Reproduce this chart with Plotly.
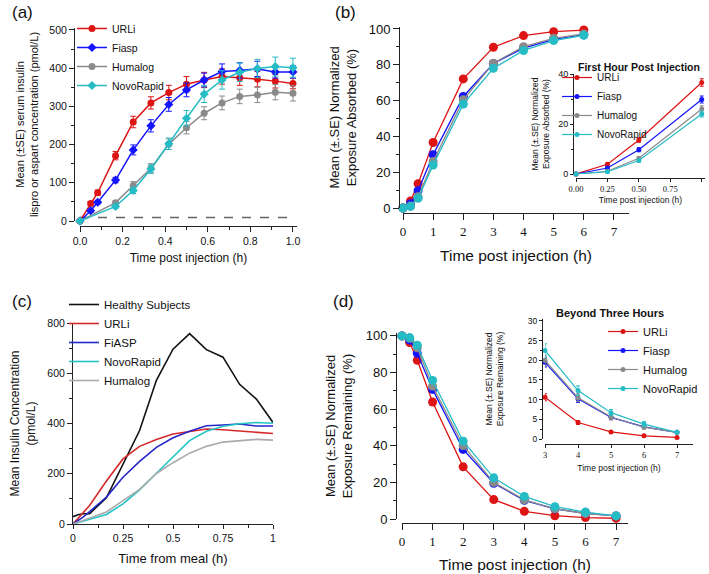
import plotly.graph_objects as go

W, H = 709, 574
SANS = "Liberation Sans, Arial, sans-serif"
SERIF = "Liberation Serif, Times New Roman, serif"
AX = "#222222"

# ---------------- data ----------------
series = ["URLi", "Fiasp", "Humalog", "NovoRapid"]
colors = ["#dc1414", "#1414ff", "#8a8a8a", "#26bcc6"]

# (a) serum insulin concentration, first hour
t_a_fast = [0, 0.05, 0.083, 0.167, 0.25, 0.333, 0.417, 0.5, 0.583, 0.667, 0.75, 0.833, 0.917, 1.0]
t_a_slow = [0, 0.167, 0.25, 0.333, 0.417, 0.5, 0.583, 0.667, 0.75, 0.833, 0.917, 1.0]
a_urli = [0, 46, 74, 171, 259, 309, 336, 358, 369, 378, 375, 371, 366, 360]
a_urli_se = [0, 5, 7, 11, 15, 16, 19, 20, 20, 20, 20, 20, 18, 14]
a_fiasp = [0, 27, 49, 107, 186, 249, 305, 343, 369, 391, 394, 398, 390, 390]
a_fiasp_se = [0, 4, 5, 7, 13, 16, 18, 18, 18, 20, 20, 20, 16, 16]
a_humalog = [0, 48, 93, 138, 201, 244, 282, 309, 326, 330, 337, 334]
a_humalog_se = [0, 5, 10, 12, 14, 16, 17, 18, 19, 20, 20, 20]
a_novo = [0, 38, 80, 136, 202, 269, 332, 369, 389, 399, 404, 401]
a_novo_se = [0, 5, 8, 11, 15, 20, 22, 24, 24, 24, 25, 25]
lloq = 9

# (b) normalized exposure absorbed
t_b = [0, 0.25, 0.5, 1, 2, 3, 4, 5, 6]
b_urli = [0, 3.9, 13.6, 36.6, 72.1, 89.8, 96.3, 98.5, 99.4]
b_urli_se = [0, 0.6, 0.9, 1.5, 1.5, 1.0, 0.7, 0.5, 0.4]
b_fiasp = [0, 2.4, 9.7, 29.8, 62.3, 80.7, 89.3, 94.2, 96.8]
b_fiasp_se = [0, 0.4, 0.8, 1.4, 1.6, 1.3, 1.0, 0.7, 0.5]
b_humalog = [0, 1.1, 6.3, 26.0, 60.4, 80.9, 90.1, 94.8, 97.2]
b_humalog_se = [0, 0.3, 0.7, 1.3, 1.6, 1.4, 1.0, 0.8, 0.5]
b_novo = [0, 0.9, 5.4, 24.0, 58.0, 78.0, 88.0, 93.5, 96.5]
b_novo_se = [0, 0.3, 0.6, 1.2, 1.6, 1.4, 1.1, 0.8, 0.6]
b_inset_n = 4  # first hour points (0, 0.25, 0.5, 1)

# (c) mean insulin concentration vs healthy subjects
c_names = ["Healthy Subjects", "URLi", "FiASP", "NovoRapid", "Humalog"]
c_colors = ["#111111", "#d42a2a", "#2626c8", "#22c4c4", "#aaaaaa"]
t_c_healthy = [0, 0.025, 0.05, 0.083, 0.167, 0.25, 0.333, 0.417, 0.5, 0.583, 0.667, 0.75, 0.833, 0.917, 1.0]
c_healthy = [29, 37, 41, 41, 104, 235, 372, 572, 696, 758, 694, 664, 556, 497, 404]

# (d) normalized exposure remaining
t_d = [0, 0.25, 0.5, 1, 2, 3, 4, 5, 6, 7]
d_urli = [100, 96.4, 86.7, 63.9, 28.5, 10.6, 4.2, 1.8, 0.8, 0.4]
d_urli_se = [0, 0.6, 1.0, 1.5, 1.5, 0.9, 0.5, 0.3, 0.2, 0.1]
d_fiasp = [100, 97.8, 90.5, 70.8, 38.0, 19.5, 10.2, 5.5, 3.1, 1.7]
d_fiasp_se = [0, 0.5, 1.0, 1.5, 1.6, 1.2, 0.9, 0.6, 0.4, 0.3]
d_humalog = [100, 98.7, 93.5, 72.6, 40.1, 20.0, 10.5, 5.6, 3.0, 1.7]
d_humalog_se = [0, 0.4, 0.8, 1.4, 1.7, 1.3, 1.0, 0.7, 0.5, 0.3]
d_novo = [100, 99.1, 94.9, 75.7, 42.5, 22.5, 12.3, 6.7, 3.8, 1.7]
d_novo_se = [0, 0.4, 0.8, 1.6, 1.8, 1.7, 1.2, 0.8, 0.6, 0.3]
d_inset_start = 5  # from 3 h onwards


def fx(p):
    return p / W


def fy(p):
    return 1 - p / H


BASE = dict(showline=True, linecolor=AX, linewidth=1, ticks="outside", tickcolor=AX,
            tickwidth=1, showgrid=False, zeroline=False, automargin=False)


def xaxis(d0, d1, rng, pos=None, anchor=None, **kw):
    a = dict(domain=[fx(d0), fx(d1)], range=rng, **BASE)
    if pos is not None:
        a.update(anchor="free", position=fy(pos))
    else:
        a.update(anchor=anchor)
    a.update(kw)
    return a


def yaxis(top, bottom, rng, pos=None, anchor=None, **kw):
    a = dict(domain=[fy(bottom), fy(top)], range=rng, **BASE)
    if pos is not None:
        a.update(anchor="free", position=fx(pos))
    else:
        a.update(anchor=anchor)
    a.update(kw)
    return a


def minor(dt, ln=3):
    return dict(dtick=dt, ticks="outside", ticklen=ln, tickcolor=AX, showgrid=False)


fig = go.Figure()

# ---- (a)
a_sets = [(t_a_fast, a_urli, a_urli_se, "circle"),
          (t_a_fast, a_fiasp, a_fiasp_se, "diamond"),
          (t_a_slow, a_humalog, a_humalog_se, "circle"),
          (t_a_slow, a_novo, a_novo_se, "diamond")]
fig.add_trace(go.Scatter(x=[t_a_fast[0], t_a_fast[-1]], y=[lloq, lloq], mode="lines",
                         line=dict(color="#666666", width=1.5, dash="dash"),
                         showlegend=False, xaxis="x", yaxis="y", hoverinfo="skip"))
for name, col, (t, v, se, sym) in zip(series, colors, a_sets):
    fig.add_trace(go.Scatter(x=t, y=v, name=name, mode="lines+markers",
                             line=dict(color=col, width=1.5),
                             marker=dict(color=col, size=7, symbol=sym),
                             error_y=dict(type="data", array=se, color=col, thickness=1, width=3),
                             xaxis="x", yaxis="y", legend="legend", cliponaxis=False))

# ---- (b) main and inset
b_sets = [(b_urli, b_urli_se), (b_fiasp, b_fiasp_se), (b_humalog, b_humalog_se), (b_novo, b_novo_se)]
for name, col, (v, se) in zip(series, colors, b_sets):
    fig.add_trace(go.Scatter(x=t_b, y=v, name=name, mode="lines+markers",
                             line=dict(color=col, width=1.3),
                             marker=dict(color=col, size=9),
                             error_y=dict(type="data", array=se, color=col, thickness=1, width=3),
                             xaxis="x2", yaxis="y2", showlegend=False, cliponaxis=False))
for name, col, (v, se) in zip(series, colors, b_sets):
    fig.add_trace(go.Scatter(x=t_b[:b_inset_n], y=v[:b_inset_n], name=name, mode="lines+markers",
                             line=dict(color=col, width=1.2),
                             marker=dict(color=col, size=5),
                             error_y=dict(type="data", array=se[:b_inset_n], color=col, thickness=1, width=2),
                             xaxis="x3", yaxis="y3", legend="legend2", cliponaxis=False))

# ---- (c)
c_sets = [(t_c_healthy, c_healthy), (t_a_fast, a_urli), (t_a_fast, a_fiasp),
          (t_a_slow, a_novo), (t_a_slow, a_humalog)]
for name, col, (t, v) in zip(c_names, c_colors, c_sets):
    fig.add_trace(go.Scatter(x=t, y=v, name=name, mode="lines",
                             line=dict(color=col, width=1.6),
                             xaxis="x4", yaxis="y4", legend="legend3"))

# ---- (d) main and inset
d_sets = [(d_urli, d_urli_se), (d_fiasp, d_fiasp_se), (d_humalog, d_humalog_se), (d_novo, d_novo_se)]
for name, col, (v, se) in zip(series, colors, d_sets):
    fig.add_trace(go.Scatter(x=t_d, y=v, name=name, mode="lines+markers",
                             line=dict(color=col, width=1.3),
                             marker=dict(color=col, size=9),
                             error_y=dict(type="data", array=se, color=col, thickness=1, width=3),
                             xaxis="x5", yaxis="y5", showlegend=False, cliponaxis=False))
for name, col, (v, se) in zip(series, colors, d_sets):
    fig.add_trace(go.Scatter(x=t_d[d_inset_start:], y=v[d_inset_start:], name=name, mode="lines+markers",
                             line=dict(color=col, width=1.2),
                             marker=dict(color=col, size=5),
                             error_y=dict(type="data", array=se[d_inset_start:], color=col, thickness=1, width=2),
                             xaxis="x6", yaxis="y6", legend="legend4", cliponaxis=False))


def tf(s, fam=SANS):
    return dict(family=fam, size=s, color="#111111")


layout = dict(
    template="none",
    width=W, height=H, margin=dict(l=0, r=0, t=0, b=0, pad=0, autoexpand=False),
    paper_bgcolor="white", plot_bgcolor="white",
    font=dict(family=SANS, color="#111111"),
    hovermode="closest",
    # (a)
    xaxis=xaxis(80, 297, [0, 1.019], pos=226, dtick=0.2, tick0=0, tickformat=".1f", ticklen=5,
                minor=minor(0.1), tickfont=tf(10.5),
                title=dict(text="Time post injection (h)", font=tf(12), standoff=8)),
    yaxis=yaxis(28, 221, [0, 505], pos=74, dtick=100, ticklen=5, minor=minor(50), tickfont=tf(10.5),
                title=dict(text="Mean (±SE) serum insulin<br>lispro or aspart concentration (pmol/L)",
                           font=tf(11), standoff=7)),
    # (b) main
    xaxis2=xaxis(403, 629, [0, 7.5], pos=213, tickvals=list(range(8)), ticklen=6,
                 tickfont=tf(13, SERIF),
                 title=dict(text="Time post injection (h)", font=tf(15.5), standoff=12)),
    yaxis2=yaxis(27, 208, [0, 101.1], pos=399, dtick=20, ticklen=6, minor=minor(10, 3), tickfont=tf(13),
                 title=dict(text="Mean (±.SE) Normalized<br>Exposure Absorbed (%)", font=tf(13), standoff=8)),
    # (b) inset
    xaxis3=xaxis(576, 705, [0, 1.026], pos=178, tickvals=[0, 0.25, 0.5, 0.75, 1.0], tickformat=".2f",
                 ticklen=3, tickfont=tf(8.5, SERIF),
                 title=dict(text="Time post injection (h)", font=tf(8.5), standoff=3)),
    yaxis3=yaxis(74, 174, [0, 40], pos=573, dtick=20, ticklen=3, minor=minor(10, 2), tickfont=tf(9),
                 title=dict(text="Mean (±.SE) Normalized<br>Exposure Absorbed (%)", font=tf(8.5), standoff=6)),
    # (c)
    xaxis4=xaxis(73, 273, [0, 1], anchor="y4", tickvals=[0, 0.25, 0.5, 0.75, 1],
                 ticktext=["0", "0.25", "0.5", "0.75", "1"], ticklen=4, minor=minor(0.125),
                 tickfont=tf(10.5),
                 title=dict(text="Time from meal (h)", font=tf(13), standoff=11)),
    yaxis4=yaxis(323, 524, [0, 800], anchor="x4", dtick=200, ticklen=5, minor=minor(100), tickfont=tf(10.5),
                 title=dict(text="Mean Insulin Concentration<br>(pmol/L)", font=tf(12), standoff=9)),
    # (d) main
    xaxis5=xaxis(402, 628, [0, 7.39], pos=523, tickvals=list(range(8)), ticklen=6,
                 tickfont=tf(13, SERIF),
                 title=dict(text="Time post injection (h)", font=tf(15.5), standoff=11)),
    yaxis5=yaxis(333, 519, [0, 101.6], pos=396, dtick=20, ticklen=6, minor=minor(10, 3), tickfont=tf(13),
                 title=dict(text="Mean (±.SE) Normalized<br>Exposure Remaining (%)", font=tf(13), standoff=9)),
    # (d) inset
    xaxis6=xaxis(545, 693, [3, 7.485], pos=444, tickvals=[3, 4, 5, 6, 7], ticklen=3,
                 tickfont=tf(8.5, SERIF),
                 title=dict(text="Time post injection (h)", font=tf(8.5), standoff=5)),
    yaxis6=yaxis(319, 439, [0, 30.5], pos=542, dtick=5, ticklen=3, minor=minor(2.5, 2), tickfont=tf(8.5),
                 title=dict(text="Mean (±.SE) Normalized<br>Exposure Remaining (%)", font=tf(8.5), standoff=21)),
    legend=dict(x=fx(72), y=fy(14), xanchor="left", yanchor="top", bgcolor="rgba(0,0,0,0)",
                font=tf(10.5), tracegroupgap=0, borderwidth=0),
    legend2=dict(x=fx(557), y=fy(63), xanchor="left", yanchor="top", bgcolor="rgba(0,0,0,0)",
                 font=tf(10), tracegroupgap=0, borderwidth=0),
    legend3=dict(x=fx(64), y=fy(290), xanchor="left", yanchor="top", bgcolor="rgba(0,0,0,0)",
                 font=tf(11.5), tracegroupgap=0, borderwidth=0),
    legend4=dict(x=fx(603), y=fy(317), xanchor="left", yanchor="top", bgcolor="rgba(0,0,0,0)",
                 font=tf(11), tracegroupgap=0, borderwidth=0),
    showlegend=True,
)

annos = [
    ("(a)", 22, 12, 17, False), ("(b)", 345, 12, 17, False),
    ("(c)", 22, 301, 17, False), ("(d)", 343, 301, 17, False),
    ("First Hour Post Injection", 639, 67, 10.5, True),
    ("Beyond Three Hours", 610, 313, 11, True),
]
layout["annotations"] = [
    dict(text=(f"<b>{t}</b>" if b else t), x=fx(x), y=fy(y), xref="paper", yref="paper",
         xanchor="center", yanchor="middle", showarrow=False, font=tf(s))
    for t, x, y, s, b in annos
]

fig.update_layout(**layout)
fig.write_html("out.html",
               config={"displayModeBar": False, "staticPlot": True},
               post_script="document.body.style.margin='0px';document.body.style.padding='0px';")
